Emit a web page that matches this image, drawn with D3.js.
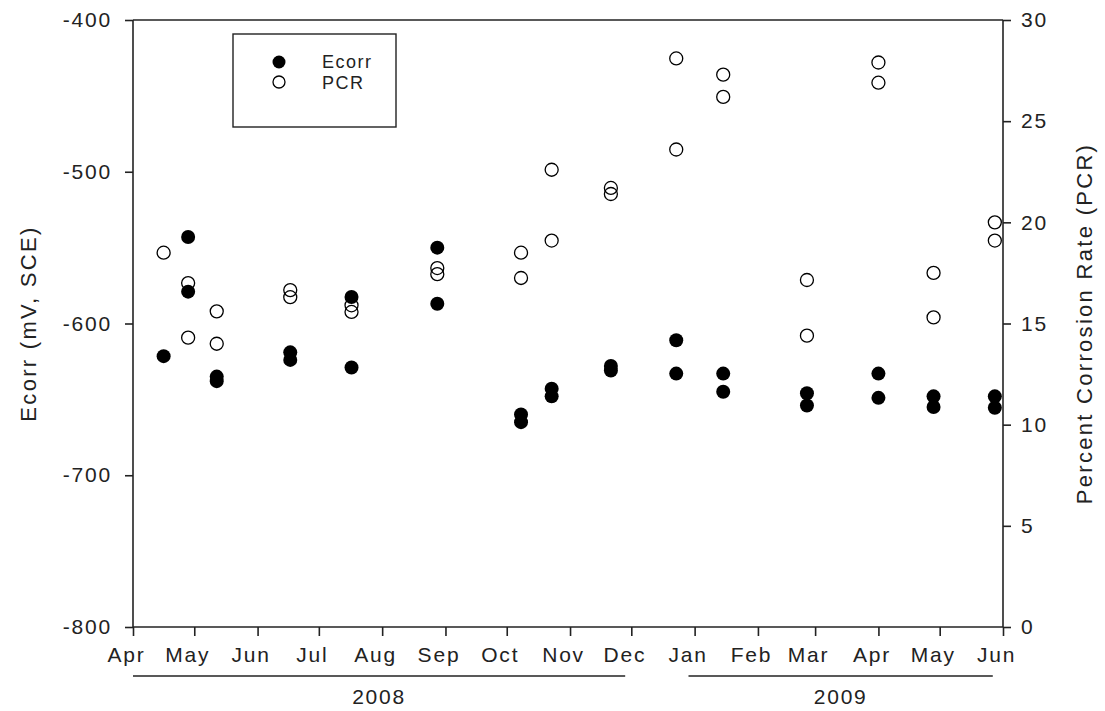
<!DOCTYPE html>
<html>
<head>
<meta charset="utf-8">
<script src="https://cdn.jsdelivr.net/npm/d3@7"></script>
<style>
  body { margin: 0; background: #fff; }
  text { font-family: Arial, "Liberation Sans", sans-serif; fill: #222; }
</style>
</head>
<body>
<svg width="1105" height="711"></svg>
<script>
// sampling dates
const sampleDates = ['2008-04-16','2008-04-28','2008-05-12','2008-06-17','2008-07-17','2008-08-28',
  '2008-10-08','2008-10-23','2008-11-21','2008-12-23','2009-01-15','2009-02-25','2009-04-01','2009-04-28','2009-05-28']
// Ecorr, two specimens (mV, SCE)
const ecorrA = [-621.5, -543, -635, -619, -582.5, -550, -660, -643, -628, -611, -633, -646, -633, -648, -648]
const ecorrB = [null, -579, -638, -624, -629, -587, -665, -648, -631, -633, -645, -654, -649, -655, -655.5]
// percent corrosion rate
const pcrA = [18.5, 17.0, 15.6, 16.65, 15.9, 17.74, 18.5, 22.6, 21.7, 28.1, 27.3, 17.15, 27.9, 17.5, 20.0]
const pcrB = [null, 14.3, 14.0, 16.3, 15.57, 17.44, 17.25, 19.1, 21.4, 23.6, 26.2, 14.4, 26.9, 15.3, 19.1]

const leftTicks = [-400, -500, -600, -700, -800]
const rightTicks = [0, 5, 10, 15, 20, 25, 30]
const years = [{label:'2008', from:'2008-04-01', to:'2008-11-28'}, {label:'2009', from:'2008-12-29', to:'2009-05-27'}]

const svg = d3.select('svg')
const width = +svg.attr('width')
const height = +svg.attr('height')
const m = {top:20, right:102, bottom:84, left:133}
const parse = d3.timeParse('%Y-%m-%d')

const x = d3.scaleTime()
  .domain([parse('2008-04-01'), parse('2009-06-01')])
  .range([m.left, width-m.right])
const yL = d3.scaleLinear().domain([-800, -400]).range([height-m.bottom, m.top])
const yR = d3.scaleLinear().domain([0, 30]).range([height-m.bottom, m.top])

svg.append('rect').attr('width', width).attr('height', height).attr('fill', '#fff')

// points
let ecorrPts = [], pcrPts = []
sampleDates.forEach((d, i) => {
  [ecorrA[i], ecorrB[i]].forEach(v => { if (v != null) ecorrPts.push({d:parse(d), v}) });
  [pcrA[i], pcrB[i]].forEach(v => { if (v != null) pcrPts.push({d:parse(d), v}) })
})

svg.append('g').selectAll('circle').data(pcrPts).join('circle')
  .attr('cx', d => x(d.d)).attr('cy', d => yR(d.v)).attr('r', 6.5)
  .attr('fill', 'none').attr('stroke', '#000').attr('stroke-width', 1.3)
svg.append('g').selectAll('circle').data(ecorrPts).join('circle')
  .attr('cx', d => x(d.d)).attr('cy', d => yL(d.v)).attr('r', 7)
  .attr('fill', '#000')

// axes
const fs = '21px'
const ls = '1.8px'
const ax = svg.append('g').attr('transform', `translate(0,${height-m.bottom})`)
  .call(d3.axisBottom(x).ticks(d3.timeMonth.every(1)).tickFormat(d3.timeFormat('%b')).tickSize(9).tickPadding(11))
ax.selectAll('text').attr('dx', -7)

const al = svg.append('g').attr('transform', `translate(${m.left},0)`)
  .call(d3.axisLeft(yL).tickValues(leftTicks).tickFormat(d => String(d)).tickSize(8).tickPadding(13))
const ar = svg.append('g').attr('transform', `translate(${width-m.right},0)`)
  .call(d3.axisRight(yR).tickValues(rightTicks).tickFormat(d => String(d)).tickSize(8).tickPadding(10))

svg.selectAll('.tick line').attr('stroke', '#222').attr('stroke-width', 1.6)
svg.selectAll('.tick text').style('font-size', fs).style('letter-spacing', ls).attr('fill', '#222')

// plain axis lines without outer ticks, plus top border
ax.select('.domain').attr('d', `M${m.left},0H${width-m.right}`)
al.select('.domain').attr('d', `M0,${m.top}V${height-m.bottom}`)
ar.select('.domain').attr('d', `M0,${m.top}V${height-m.bottom}`)
svg.selectAll('.domain').attr('stroke', '#222').attr('stroke-width', 1.6)
svg.append('line').attr('x1', m.left).attr('x2', width-m.right).attr('y1', m.top).attr('y2', m.top)
  .attr('stroke', '#222').attr('stroke-width', 1.6)

// year brackets
years.forEach(yr => {
  const x0 = x(parse(yr.from)), x1 = x(parse(yr.to))
  svg.append('line').attr('x1', x0).attr('x2', x1).attr('y1', 676).attr('y2', 676)
    .attr('stroke', '#222').attr('stroke-width', 1.3)
  svg.append('text').attr('x', (x0+x1)/2).attr('y', 704).attr('text-anchor', 'middle')
    .style('font-size', fs).style('letter-spacing', ls).text(yr.label)
})

// axis titles
const midY = (m.top+height-m.bottom)/2
svg.append('text').attr('transform', `translate(36,${midY}) rotate(-90)`)
  .attr('text-anchor', 'middle').style('font-size', '22px').style('letter-spacing', '2.3px').text('Ecorr (mV, SCE)')
svg.append('text').attr('transform', `translate(1092,${midY}) rotate(-90)`)
  .attr('text-anchor', 'middle').style('font-size', '22px').style('letter-spacing', '2.3px').text('Percent Corrosion Rate (PCR)')

// legend
const lg = svg.append('g')
lg.append('rect').attr('x', 233).attr('y', 34).attr('width', 163).attr('height', 93)
  .attr('fill', '#fff').attr('stroke', '#222').attr('stroke-width', 1.4)
lg.append('circle').attr('cx', 279).attr('cy', 62).attr('r', 6.5).attr('fill', '#000')
lg.append('circle').attr('cx', 279).attr('cy', 82).attr('r', 6).attr('fill', 'none').attr('stroke', '#000').attr('stroke-width', 1.3)
lg.append('text').attr('x', 322).attr('y', 68).style('font-size', '18px').style('letter-spacing', '1.5px').text('Ecorr')
lg.append('text').attr('x', 322).attr('y', 89).style('font-size', '18px').style('letter-spacing', '1.5px').text('PCR')
</script>
</body>
</html>
